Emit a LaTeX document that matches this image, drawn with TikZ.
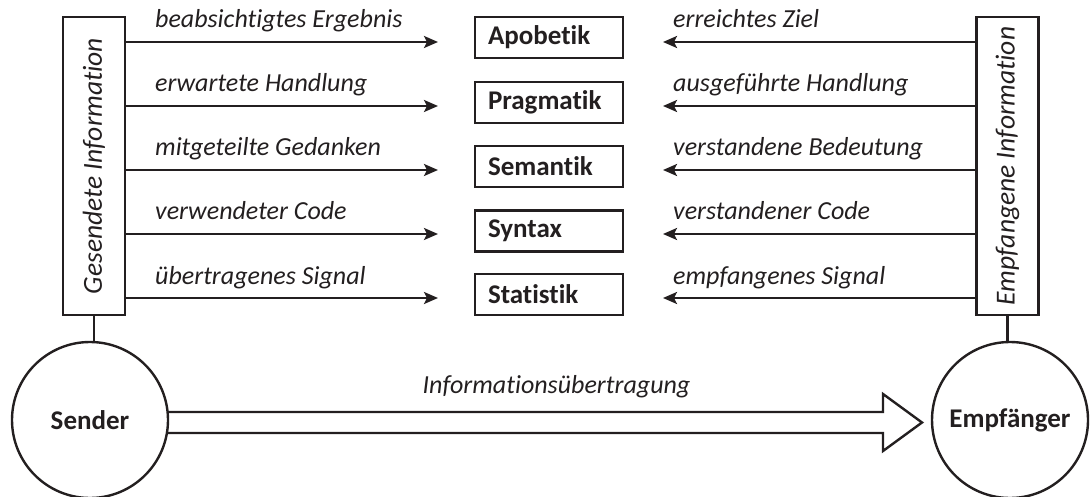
\documentclass[tikz,border=0pt]{standalone}
\usepackage{fontspec}
\setmainfont{Carlito}[Ligatures={NoCommon}]
\usetikzlibrary{arrows.meta}
\definecolor{ink}{RGB}{35,31,32}
\begin{document}
\begin{tikzpicture}[x=1pt,y=-1pt,
  every node/.style={text=ink, font=\fontsize{26}{30}\selectfont},
  line/.style={draw=ink, line width=2.4pt},
  infobox/.style={line, minimum width=62pt, minimum height=298pt, inner sep=0pt},
  sidetext/.style={rotate=90, inner sep=0pt, font=\fontsize{27.5}{30}\selectfont\itshape},
  level/.style={line, minimum width=148pt, minimum height=41pt, inner xsep=13pt, inner ysep=0pt, text width=122pt, align=left, font=\fontsize{27}{30}\selectfont\bfseries},
  party/.style={line, circle, minimum size=156pt, inner sep=0pt, fill=white, font=\fontsize{27}{30}\selectfont\bfseries},
  lab/.style={anchor=base west, inner sep=0pt, font=\fontsize{26}{30}\selectfont\itshape},
  flow/.style={line, -{Stealth[length=14pt, width=12pt, inset=3pt]}}
]
\useasboundingbox (0,0) rectangle (1092,497);
% side boxes
\node[infobox] (gesendet) at (94,166) {};
\node[sidetext] (gesendettext) at (gesendet.center) {Gesendete Information};
\node[infobox] (empfangen) at (1007.5,166) {};
\node[sidetext] (empfangentext) at (empfangen.center) {Empfangene Information};
% levels
\node[level] (apobetik) at (549,37.5) {Apobetik};
\node[level] (pragmatik) at (549,102.5) {Pragmatik};
\node[level] (semantik) at (549,166.5) {Semantik};
\node[level] (syntax) at (549,231) {Syntax};
\node[level] (statistik) at (549,294.5) {Statistik};
% arrow ends
\foreach \n/\y in {a/42,p/106,se/170,sy/234,st/298}{
  \coordinate (l\n) at (438,\y);
  \coordinate (r\n) at (663,\y);
}
\draw[flow] (gesendet.east |- la) -- (la);
\draw[flow] (gesendet.east |- lp) -- (lp);
\draw[flow] (gesendet.east |- lse) -- (lse);
\draw[flow] (gesendet.east |- lsy) -- (lsy);
\draw[flow] (gesendet.east |- lst) -- (lst);
\draw[flow] (empfangen.west |- ra) -- (ra);
\draw[flow] (empfangen.west |- rp) -- (rp);
\draw[flow] (empfangen.west |- rse) -- (rse);
\draw[flow] (empfangen.west |- rsy) -- (rsy);
\draw[flow] (empfangen.west |- rst) -- (rst);
% labels
\node[lab] (t1) at (155,28) {beabsichtigtes Ergebnis};
\node[lab] (t2) at (155,92) {erwartete Handlung};
\node[lab] (t3) at (155,156) {mitgeteilte Gedanken};
\node[lab] (t4) at (155,220) {verwendeter Code};
\node[lab] (t5) at (155,284) {übertragenes Signal};
\node[lab] (u1) at (673,28) {erreichtes Ziel};
\node[lab] (u2) at (673,92) {ausgeführte Handlung};
\node[lab] (u3) at (673,156) {verstandene Bedeutung};
\node[lab] (u4) at (673,220) {verstandener Code};
\node[lab] (u5) at (673,284) {empfangenes Signal};
% transmission arrow
\coordinate (s1) at (167,412);
\coordinate (s2) at (167,433);
\draw[line, line join=miter] (s1) -- (883,412) -- (883,394) -- (922,422.5) -- (883,451) -- (883,433) -- (s2);
\node[lab, anchor=base] (ueber) at (556.5,393) {Informationsübertragung};
% parties
\node[party] (sender) at (90,420) {Sender};
\node[party] (empf) at (1010,420) {Empfänger};
\draw[line] (gesendet.south) -- (gesendet.south |- sender.north);
\draw[line] (empfangen.south) -- (empfangen.south |- empf.north);
\end{tikzpicture}
\end{document}
